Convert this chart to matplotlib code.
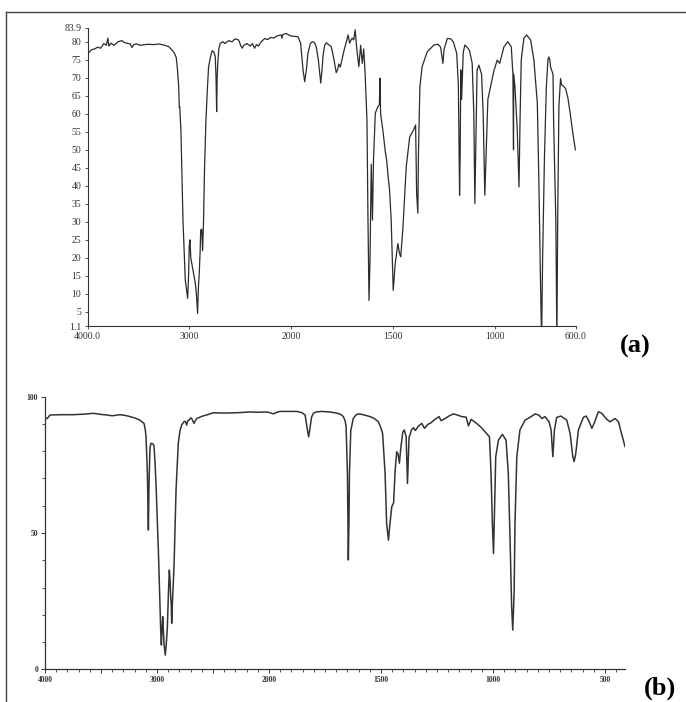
import matplotlib
matplotlib.use('Agg')
import matplotlib.pyplot as plt
from matplotlib.lines import Line2D
from matplotlib.ticker import FixedLocator, NullLocator
import numpy as np

# spectrum (a): wavenumber / cm-1 and %T
wn_a = [4000, 3985, 3960, 3930, 3900, 3870, 3840, 3815, 3800, 3790, 3770, 3740, 3700,
        3661, 3640, 3600, 3580, 3563, 3545, 3520, 3480, 3440, 3399, 3350, 3300, 3239,
        3200, 3170, 3145, 3128, 3115, 3104, 3098, 3094, 3082, 3062, 3039, 3016, 3007,
        3000, 2993, 2985, 2960, 2941, 2930, 2918, 2910, 2902, 2893, 2888, 2878, 2869,
        2860, 2850, 2836, 2822, 2810, 2790, 2775, 2760, 2745, 2737, 2731, 2726, 2720,
        2710, 2695, 2670, 2650, 2613, 2580, 2550, 2515, 2495, 2480, 2465, 2433, 2400,
        2380, 2358, 2340, 2320, 2293, 2259, 2230, 2200, 2170, 2140, 2110, 2096, 2090,
        2080, 2047, 2030, 2000, 1966, 1953, 1941, 1933, 1925, 1917, 1905, 1896, 1885,
        1876, 1866, 1854, 1848, 1843, 1835, 1827, 1815, 1802, 1789, 1778, 1770, 1765,
        1758, 1748, 1737, 1728, 1720, 1712, 1705, 1699, 1692, 1685, 1677, 1667, 1658,
        1650, 1643, 1636, 1627, 1622, 1617, 1612, 1606, 1600, 1595, 1586, 1573, 1566,
        1563, 1560, 1549, 1540, 1537, 1530, 1522, 1516, 1508, 1498, 1488, 1475, 1468,
        1461, 1450, 1434, 1417, 1398, 1388, 1383, 1377, 1374, 1367, 1356, 1331, 1298,
        1278, 1265, 1254, 1248, 1232, 1215, 1203, 1186, 1178, 1172, 1169, 1166, 1162,
        1154, 1146, 1131, 1123, 1110, 1102, 1097, 1090, 1086, 1077, 1064, 1056, 1048,
        1042, 1033, 1020, 1003, 987, 975, 954, 935, 918, 910, 907, 906, 900, 889, 880,
        875, 869, 856, 843, 823, 807, 790, 782, 774, 769, 764, 755, 746, 738, 733, 729,
        725, 713, 710, 699, 694, 690, 684, 676, 671, 664, 651, 640, 627, 614, 603]
t_a = [77.5, 77.0, 77.8, 78.0, 78.5, 78.2, 79.5, 79.0, 81.0, 78.8, 79.6, 79.0, 80.0,
       80.3, 79.8, 79.5, 79.4, 78.4, 79.2, 79.4, 79.0, 79.2, 79.3, 79.2, 79.4, 79.0,
       78.6, 77.7, 76.8, 75.6, 72.0, 67.5, 61.8, 62.0, 55.5, 30.5, 13.8, 8.8, 15.0,
       23.5, 25.0, 20.0, 16.0, 13.0, 10.0, 4.6, 12.0, 15.7, 22.0, 27.7, 28.0, 22.0,
       30.0, 45.0, 58.3, 67.0, 73.1, 76.0, 77.5, 77.2, 76.0, 70.0, 60.6, 70.0, 74.0,
       78.0, 79.6, 80.0, 79.5, 80.3, 80.0, 80.8, 80.5, 79.0, 78.2, 79.0, 79.5, 78.8,
       79.5, 78.2, 79.2, 78.8, 80.0, 80.9, 80.6, 81.2, 81.0, 81.6, 81.8, 81.9, 81.0,
       82.0, 82.3, 82.0, 81.6, 81.4, 79.6, 72.2, 68.9, 72.0, 76.8, 79.5, 80.0, 79.8,
       78.6, 75.0, 68.5, 72.0, 76.0, 79.0, 79.7, 79.2, 78.6, 75.0, 71.4, 72.5, 73.8,
       73.0, 75.5, 78.2, 80.0, 81.9, 79.6, 80.5, 81.0, 80.5, 83.3, 78.0, 73.1, 79.0,
       74.0, 78.0, 71.2, 58.3, 30.5, 8.2, 19.4, 46.0, 30.5, 47.0, 60.2, 62.0, 62.5,
       69.9, 60.0, 55.5, 51.0, 49.5, 47.0, 42.0, 38.8, 30.5, 11.0, 18.5, 24.0, 21.5,
       20.3, 28.6, 45.3, 53.6, 55.5, 56.9, 37.9, 32.4, 49.0, 67.5, 73.1, 77.2, 79.1,
       79.3, 78.5, 74.0, 78.0, 80.9, 80.8, 80.0, 76.8, 68.0, 37.4, 49.0, 72.2, 64.0,
       77.0, 79.1, 78.2, 77.5, 74.0, 60.0, 35.1, 58.0, 72.2, 73.5, 71.0, 60.0, 37.4,
       48.0, 64.0, 67.5, 72.0, 74.9, 74.0, 78.6, 80.0, 78.6, 71.0, 50.0, 71.0, 67.5,
       56.0, 39.7, 58.0, 75.0, 81.0, 81.9, 80.5, 75.0, 63.0, 40.0, 12.0, -3.0, 20.0,
       48.0, 67.0, 75.0, 75.8, 75.0, 73.0, 71.0, 58.0, 30.0, -3.0, 30.0, 62.0, 69.8,
       68.0, 67.8, 67.0, 64.5, 59.5, 54.0, 50.0]

# spectrum (b)
wn_b = [4000, 3980, 3955, 3850, 3747, 3650, 3568, 3500, 3448, 3400, 3330, 3280, 3241,
        3200, 3152, 3116, 3105, 3098, 3086, 3079, 3077, 3074, 3072, 3063, 3055, 3048,
        3035, 3027, 3018, 3009, 2988, 2967, 2961, 2955, 2949, 2943, 2937, 2926, 2918,
        2908, 2898, 2890, 2884, 2878, 2873, 2869, 2862, 2848, 2830, 2810, 2795, 2780,
        2756, 2745, 2735, 2725, 2714, 2700, 2690, 2670, 2660, 2646, 2600, 2557, 2497,
        2400, 2304, 2250, 2170, 2100, 2021, 2000, 1980, 1965, 1951, 1900, 1876, 1855,
        1839, 1829, 1823, 1817, 1810, 1802, 1790, 1765, 1730, 1698, 1680, 1668, 1660,
        1656, 1650, 1646, 1643, 1641, 1635, 1624, 1612, 1601, 1580, 1549, 1530, 1512,
        1500, 1493, 1482, 1475, 1467, 1460, 1452, 1444, 1437, 1430, 1424, 1418, 1412,
        1403, 1396, 1388, 1382, 1375, 1363, 1355, 1347, 1333, 1318, 1306, 1289, 1281,
        1259, 1241, 1232, 1214, 1195, 1177, 1160, 1140, 1120, 1110, 1098, 1073, 1050,
        1036, 1016, 1009, 1003, 998, 994, 988, 976, 958, 942, 932, 924, 917, 912, 906,
        902, 894, 880, 857, 830, 812, 795, 782, 768, 750, 741, 733, 726, 716, 697, 671,
        656, 644, 638, 631, 619, 597, 585, 574, 559, 549, 530, 515, 492, 478, 455, 440,
        425, 411]
t_b = [92.1, 92.0, 93.3, 93.4, 93.4, 93.6, 93.9, 93.5, 93.3, 93.0, 93.4, 93.1, 92.7,
       92.2, 91.4, 90.2, 88.0, 85.3, 72.0, 55.0, 51.1, 60.0, 67.0, 81.0, 82.8, 82.9,
       82.6, 82.0, 76.0, 68.2, 43.8, 14.4, 8.9, 15.0, 19.3, 14.0, 9.0, 5.2, 9.0,
       15.0, 28.0, 36.4, 33.0, 26.6, 24.0, 16.9, 25.0, 38.0, 65.8, 83.0, 87.5, 89.6,
       91.0, 90.8, 89.6, 91.2, 91.4, 92.2, 92.0, 90.2, 91.0, 92.0, 92.8, 93.3, 94.1,
       94.0, 94.1, 94.2, 94.4, 94.3, 94.4, 94.2, 93.7, 94.3, 94.6, 94.6, 94.6, 94.2,
       93.3, 88.0, 85.3, 88.6, 92.5, 93.9, 94.4, 94.6, 94.4, 94.0, 93.5, 92.7, 91.0,
       89.0, 72.0, 40.1, 55.0, 72.0, 87.6, 92.0, 93.3, 93.7, 93.4, 92.7, 92.0, 90.8,
       88.5, 86.5, 72.0, 53.6, 47.4, 53.6, 59.7, 61.0, 73.0, 79.8, 79.0, 75.6, 81.0,
       87.0, 87.8, 85.3, 68.2, 85.0, 88.0, 88.6, 87.6, 89.2, 90.2, 88.4, 90.0, 90.2,
       91.7, 92.7, 91.2, 92.0, 93.0, 93.7, 93.3, 92.7, 92.5, 89.3, 91.7, 90.2, 88.5,
       87.2, 85.3, 72.0, 53.6, 42.5, 56.0, 78.0, 84.1, 86.2, 84.0, 72.0, 47.4, 23.0,
       14.4, 28.0, 53.6, 78.0, 87.8, 91.4, 92.7, 93.7, 93.2, 92.0, 92.7, 90.8, 87.8,
       78.0, 87.8, 92.4, 92.9, 91.4, 86.5, 78.0, 76.2, 79.0, 87.8, 92.4, 92.9, 91.4,
       88.4, 90.2, 94.5, 93.9, 91.7, 90.8, 92.0, 90.8, 86.0, 81.7]


# IR charts: scale doubles below 2000 cm-1
def fwd(w):
    w = np.asarray(w, dtype=float)
    return np.where(w >= 2000, w, 2.0 * w - 2000.0)


def inv(x):
    x = np.asarray(x, dtype=float)
    return np.where(x >= 2000, x, (x + 2000.0) / 2.0)


W, H = 686.0, 702.0
serif = 'Liberation Serif'
ink = '#2b2b2b'

fig = plt.figure(figsize=(W / 100, H / 100), dpi=100)

# outer frame
fig.add_artist(Line2D([6 / W, 1.0], [1 - 12 / H, 1 - 12 / H], color='#444', lw=1.0))
fig.add_artist(Line2D([6 / W, 6 / W], [1 - 12 / H, 0.0], color='#444', lw=1.0))

# panel (a)
ax = fig.add_axes([87.5 / W, 1 - 326 / H, 488.5 / W, 298.3 / H])
ax.set_xscale('function', functions=(fwd, inv))
ax.plot(wn_a, t_a, color=ink, lw=0.9)
ax.set_xlim(4000, 600)
ax.set_ylim(1.1, 83.9)
ax.set_xticks([4000, 3000, 2000, 1500, 1000, 600])
ax.set_xticklabels(['4000.0', '3000', '2000', '1500', '1000', '600.0'])
yt = [1.1] + list(range(5, 85, 5)) + [83.9]
ax.set_yticks(yt)
ax.set_yticklabels(['1.1'] + [str(v) for v in range(5, 85, 5)] + ['83.9'])
ax.xaxis.set_minor_locator(NullLocator())
ax.yaxis.set_minor_locator(NullLocator())
ax.tick_params(length=2.5, width=0.6, pad=2, labelsize=7, colors='#333')
for lab in ax.get_xticklabels() + ax.get_yticklabels():
    lab.set_family(serif)
for s in ['top', 'right']:
    ax.spines[s].set_visible(False)
for s in ['left', 'bottom']:
    ax.spines[s].set_color('#333')
    ax.spines[s].set_linewidth(0.8)

# panel (b)
bx = fig.add_axes([45 / W, 1 - 669.3 / H, 580 / W, 272.6 / H])
bx.set_xscale('function', functions=(fwd, inv))
bx.plot(wn_b, t_b, color='#333', lw=1.1)
bx.set_xlim(4000, 411)
bx.set_ylim(0, 100)
bx.xaxis.set_major_locator(FixedLocator([4000, 3500, 3000, 2500, 2000, 1500, 1000, 500]))
bx.set_xticklabels(['4000', '', '3000', '', '2000', '1500', '1000', '500'])
minor_b = list(range(3900, 2000, -100)) + list(range(1950, 411, -50))
bx.xaxis.set_minor_locator(FixedLocator(minor_b))
bx.set_yticks([0, 50, 100])
bx.set_yticklabels(['0', '50', '100'])
bx.yaxis.set_minor_locator(FixedLocator(list(range(10, 100, 10))))
bx.tick_params(which='major', length=3, width=0.7, pad=2, labelsize=5.5, colors='#333')
bx.tick_params(which='minor', length=2, width=0.6, colors='#333')
for lab in bx.get_xticklabels() + bx.get_yticklabels():
    lab.set_family(serif)
    lab.set_fontweight('bold')
for s in ['top', 'right']:
    bx.spines[s].set_visible(False)
for s in ['left', 'bottom']:
    bx.spines[s].set_color('#333')
    bx.spines[s].set_linewidth(0.9)

fig.text(635 / W, 1 - 346.5 / H, '(a)', fontsize=19, fontweight='bold',
         family=serif, ha='center', va='center')
fig.text(660 / W, 1 - 688.5 / H, '(b)', fontsize=19, fontweight='bold',
         family=serif, ha='center', va='center')

fig.savefig('out.png', dpi=100)
